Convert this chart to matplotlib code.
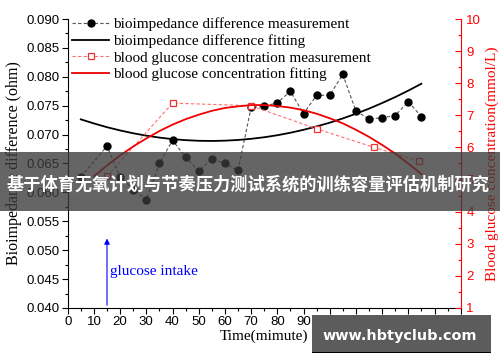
import matplotlib
matplotlib.use('Agg')
import matplotlib.pyplot as plt
from matplotlib.patches import Rectangle
from matplotlib.ticker import MultipleLocator

# bioimpedance measurement (left axis)
time_bio = [5, 15, 20, 25, 30, 35, 40, 45, 50, 55, 60, 65, 70, 75, 80, 85,
            90, 95, 100, 105, 110, 115, 120, 125, 130, 135]
bio = [0.0627, 0.0680, 0.0627, 0.0605, 0.0587, 0.0650, 0.0690, 0.0661, 0.0637,
       0.0658, 0.0650, 0.0638, 0.0747, 0.0749, 0.0755, 0.0775, 0.0736, 0.0768,
       0.0768, 0.0804, 0.0741, 0.0727, 0.0729, 0.0733, 0.0757, 0.0731]

# bioimpedance fitting curve, read every 5 min
time_bio_fit = [5, 10, 15, 20, 25, 30, 35, 40, 45, 50, 55, 60, 65, 70, 75, 80,
                85, 90, 95, 100, 105, 110, 115, 120, 125, 130, 135]
bio_fit = [0.07264, 0.07193, 0.07128, 0.07072, 0.07023, 0.06982, 0.06948,
           0.06922, 0.06904, 0.06893, 0.06890, 0.06895, 0.06907, 0.06927,
           0.06954, 0.06989, 0.07032, 0.07083, 0.07141, 0.07206, 0.07280,
           0.07361, 0.07449, 0.07546, 0.07649, 0.07761, 0.07880]

# blood glucose measurement (right axis)
time_glu = [15, 40, 70, 95, 117, 134]
glu = [5.1, 7.38, 7.3, 6.58, 6.0, 5.58]

# blood glucose fitting curve
time_glu_fit = [10, 15, 20, 25, 30, 35, 40, 45, 50, 55, 60, 65, 70, 75, 80,
                85, 90, 95, 100, 105, 110, 115, 120, 125, 130, 135]
glu_fit = [5.10, 5.44, 5.75, 6.03, 6.28, 6.51, 6.71, 6.88, 7.02, 7.14, 7.23,
           7.28, 7.32, 7.32, 7.29, 7.24, 7.16, 7.05, 6.91, 6.75, 6.55, 6.33,
           6.08, 5.81, 5.50, 5.17]

xticks = list(range(0, 151, 10))
title = '基于体育无氧计划与节奏压力测试系统的训练容量评估机制研究'
watermark = 'www.hbtyclub.com'

serif = 'Liberation Serif'
sans = 'Liberation Sans'

fig = plt.figure(figsize=(5, 3.62), dpi=100)
ax = fig.add_axes([0.1354, 0.1492, 0.786, 0.7983])
ax2 = ax.twinx()

l1, = ax.plot(time_bio, bio, color='#555555', lw=0.8, ls=(0, (3, 2)),
              marker='o', ms=5, mfc='black', mec='black',
              label='bioimpedance difference measurement')
l2, = ax.plot(time_bio_fit, bio_fit, color='black', lw=1.3,
              label='bioimpedance difference fitting')
l3, = ax2.plot(time_glu, glu, color='#ff7070', lw=0.8, ls=(0, (3, 2)),
               marker='s', ms=5, mfc='white', mec='#ee3333', mew=0.9,
               label='blood glucose concentration measurement')
l4, = ax2.plot(time_glu_fit, glu_fit, color='#ee0000', lw=1.3,
               label='blood glucose concentration fitting')

ax.set_xlim(0, 150)
ax.set_ylim(0.040, 0.090)
ax2.set_ylim(1, 10)
ax.set_xticks(xticks)
ax.xaxis.set_minor_locator(MultipleLocator(5))
ax.yaxis.set_major_locator(MultipleLocator(0.005))
ax.yaxis.set_minor_locator(MultipleLocator(0.0025))
ax.yaxis.set_major_formatter(matplotlib.ticker.FormatStrFormatter('%.3f'))
ax2.yaxis.set_major_locator(MultipleLocator(1))
ax2.yaxis.set_minor_locator(MultipleLocator(0.5))

for a in (ax, ax2):
    a.spines['top'].set_visible(False)
ax.spines['right'].set_visible(False)
ax2.spines['left'].set_visible(False)
ax2.spines['bottom'].set_visible(False)
ax2.spines['right'].set_color('red')

ax.tick_params(axis='both', which='major', direction='out', length=4,
               width=0.8, labelsize=9.5, pad=2)
ax.tick_params(axis='both', which='minor', direction='out', length=2.5,
               width=0.8)
ax2.tick_params(axis='y', which='major', direction='in', length=4,
                width=0.8, colors='red', labelsize=9.5, pad=4)
ax2.tick_params(axis='y', which='minor', direction='in', length=2.5,
                width=0.8, colors='red')
for lab in ax.get_xticklabels() + ax.get_yticklabels() + ax2.get_yticklabels():
    lab.set_family(sans)

ax.set_xlabel('Time(mimute)', family=serif, fontsize=11, labelpad=1)
ax.set_ylabel('Bioimpedance difference (ohm)', family=serif, fontsize=11.5,
              labelpad=3)
ax2.set_ylabel('Blood glucose concentration(mmol/L)', family=serif,
               fontsize=11, color='red', rotation=90, labelpad=3)

# glucose intake arrow
ax.annotate('', xy=(15, 0.0525), xytext=(15, 0.040),
            arrowprops=dict(arrowstyle='-|>', color='blue', lw=0.8,
                            mutation_scale=8))
ax.text(16.2, 0.0463, 'glucose intake', color='blue', family=serif,
        fontsize=11, va='center', ha='left')

leg = ax2.legend(handles=[l1, l2, l3, l4], loc='upper left',
                 bbox_to_anchor=(0.0, 1.022), frameon=False,
                 prop={'family': serif, 'size': 11}, handlelength=2.4,
                 handletextpad=0.25, labelspacing=0.2, borderaxespad=0.2,
                 borderpad=0.1)

# overlay band with title
fig.patches.append(Rectangle((0, 1 - 211 / 362), 1, 59 / 362,
                             transform=fig.transFigure, facecolor='#3a3a3a',
                             alpha=0.78, edgecolor='none', zorder=5))
fig.text(0.497, 1 - 185 / 362, title, color='white', fontsize=12.4,
         fontweight='bold', ha='center', va='center', zorder=6,
         family=['Noto Sans CJK SC', 'DejaVu Sans'])

# watermark box
fig.patches.append(Rectangle((312 / 500, 1 - 352 / 362), 179 / 500, 37 / 362,
                             transform=fig.transFigure, facecolor='#5c5c5c',
                             edgecolor='none', zorder=5))
fig.patches.append(Rectangle((312 / 500, 1 - 353 / 362), 179 / 500, 1.5 / 362,
                             transform=fig.transFigure, facecolor='black',
                             edgecolor='none', zorder=5))
fig.text(400 / 500, 1 - 336 / 362, watermark, color='white', fontsize=10.4,
         fontweight='bold', ha='center', va='center', zorder=6,
         family='DejaVu Sans')

fig.savefig('out.png', dpi=100)
